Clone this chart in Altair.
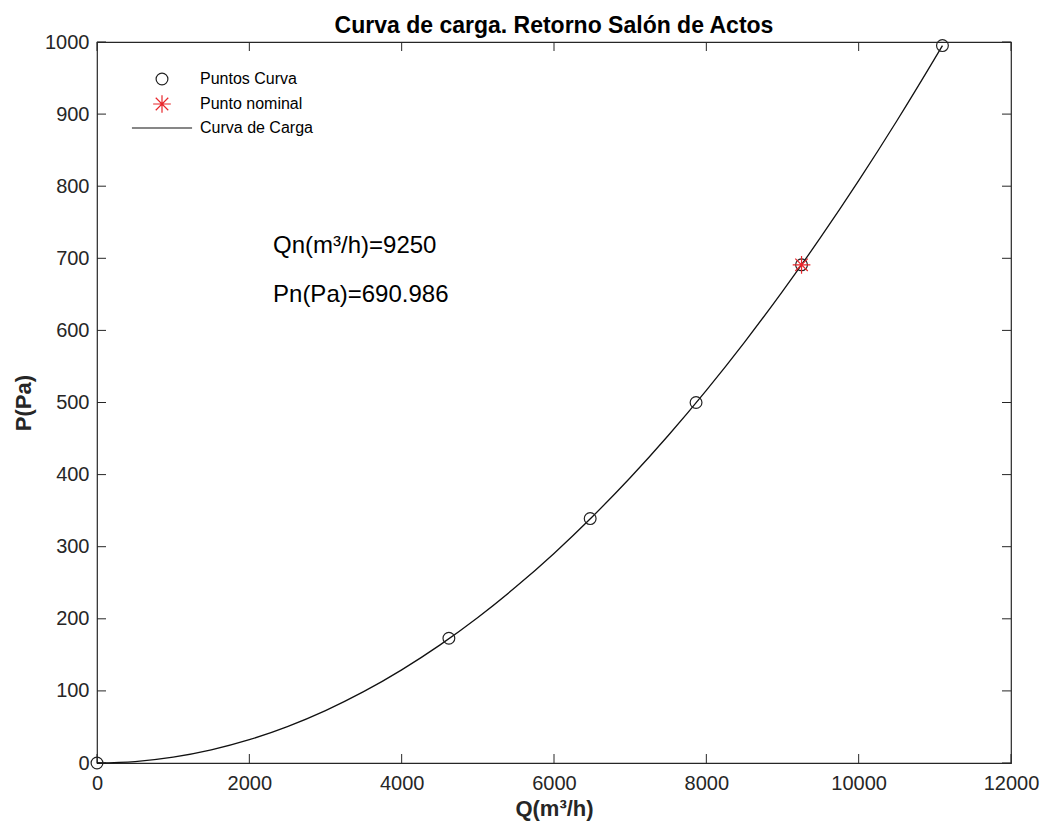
import altair as alt
import pandas as pd

# ---- data ----
pts_q = [0, 4620, 6475, 7865, 11100]
pts_p = [0, 173, 339, 500, 995]

nom_q = [9250]
nom_p = [690.986]

curve_q = [0, 500, 1000, 1500, 2000, 2500, 3000, 3500, 4000, 4500, 5000, 5500,
           6000, 6500, 7000, 7500, 8000, 8500, 9000, 9500, 10000, 10500, 11000, 11100]
curve_p = [0, 2.0, 8.1, 18.2, 32.3, 50.5, 72.7, 98.9, 129.2, 163.5, 201.9, 244.3,
           290.7, 341.2, 395.7, 454.3, 516.9, 583.5, 654.2, 728.9, 807.6, 890.4, 977.2, 995.0]

x_ticks = [0, 2000, 4000, 6000, 8000, 10000, 12000]
y_ticks = [0, 100, 200, 300, 400, 500, 600, 700, 800, 900, 1000]

legend_names = ["Puntos Curva", "Punto nominal", "Curva de Carga"]

ann_q = [2311, 2311]
ann_p = [707, 639]
ann_text = ["Qn(m³/h)=9250", "Pn(Pa)=690.986"]

# ---- styling ----
W, H = 914, 721
FONT = "Liberation Sans"
TXT = "#262626"
RED = "#e8262b"
ASTERISK = ("M-1.5,0L1.5,0M0,-1.5L0,1.5M-1.06,-1.06L1.06,1.06M-1.06,1.06L1.06,-1.06")
LINE = "M-5.1,0L5.1,0"
TICK = 9

xscale = alt.Scale(domain=[0, 12000], nice=False, zero=False)
yscale = alt.Scale(domain=[0, 1000], nice=False, zero=False)

curve_df = pd.DataFrame({"Q": curve_q, "P": curve_p})
pts_df = pd.DataFrame({
    "Q": pts_q + nom_q + nom_q,
    "P": pts_p + nom_p + nom_p,
    "serie": ["Puntos Curva"] * len(pts_q) + ["Puntos Curva"] + ["Punto nominal"],
    "ord": list(range(len(pts_q))) + [len(pts_q), len(pts_q) + 1],
})
ann_df = pd.DataFrame({"Q": ann_q, "P": ann_p, "t": ann_text})
xt_df = pd.DataFrame({"v": x_ticks})
yt_df = pd.DataFrame({"v": y_ticks})

x_axis = alt.Axis(values=x_ticks, ticks=False, domain=False, grid=False, format="d",
                  labelFontSize=20, labelFont=FONT, labelColor=TXT, labelPadding=10,
                  title="Q(m³/h)", titleFont=FONT, titleFontSize=22, titleFontWeight="bold",
                  titleColor=TXT, titlePadding=5, labelFlush=False)
y_axis = alt.Axis(values=y_ticks, ticks=False, domain=False, grid=False, format="d",
                  labelFontSize=20, labelFont=FONT, labelColor=TXT, labelPadding=8,
                  title="P(Pa)", titleFont=FONT, titleFontSize=22, titleFontWeight="bold",
                  titleColor=TXT, titlePadding=9, labelFlush=False)

line = alt.Chart(curve_df).mark_line(color="#111111", strokeWidth=1.3,
                                     interpolate="monotone").encode(
    x=alt.X("Q:Q", scale=xscale, axis=x_axis),
    y=alt.Y("P:Q", scale=yscale, axis=y_axis),
)

leg = alt.Legend(title=None, orient="none", legendX=57, legendY=29,
                 labelFont=FONT, labelFontSize=16, labelColor="#000000",
                 symbolSize=139, symbolStrokeWidth=1.2,
                 symbolFillColor="transparent",
                 labelOffset=30, rowPadding=4, padding=0)

points = alt.Chart(pts_df).mark_point(filled=False, size=139, strokeWidth=1.2, opacity=1).encode(
    x=alt.X("Q:Q", scale=xscale),
    y=alt.Y("P:Q", scale=yscale),
    shape=alt.Shape("serie:N", scale=alt.Scale(domain=legend_names,
                                               range=["circle", ASTERISK, LINE]),
                    legend=leg),
    stroke=alt.Stroke("serie:N", scale=alt.Scale(domain=legend_names,
                                                 range=["#222222", RED, "#111111"]),
                      legend=leg),
    order="ord:Q",
)

ann = alt.Chart(ann_df).mark_text(align="left", baseline="alphabetic", font=FONT,
                                  fontSize=24, color="#000000").encode(
    x=alt.X("Q:Q", scale=xscale),
    y=alt.Y("P:Q", scale=yscale),
    text="t:N",
)

tick_col = TXT
bottom_ticks = alt.Chart(xt_df).mark_rule(color=tick_col, strokeWidth=1).encode(
    x=alt.X("v:Q", scale=xscale), y=alt.value(H), y2=alt.value(H - TICK))
top_ticks = alt.Chart(xt_df).mark_rule(color=tick_col, strokeWidth=1).encode(
    x=alt.X("v:Q", scale=xscale), y=alt.value(0), y2=alt.value(TICK))
left_ticks = alt.Chart(yt_df).mark_rule(color=tick_col, strokeWidth=1).encode(
    y=alt.Y("v:Q", scale=yscale), x=alt.value(0), x2=alt.value(TICK))
right_ticks = alt.Chart(yt_df).mark_rule(color=tick_col, strokeWidth=1).encode(
    y=alt.Y("v:Q", scale=yscale), x=alt.value(W - TICK), x2=alt.value(W))

chart = alt.layer(bottom_ticks, top_ticks, left_ticks, right_ticks, line, points, ann).properties(
    width=W, height=H,
    title=alt.Title("Curva de carga. Retorno Salón de Actos", font=FONT, fontSize=23,
                    fontWeight="bold", color="#000000", anchor="middle", offset=6, dy=12),
    autosize=alt.AutoSizeParams(type="none"),
    padding={"left": 97, "top": 42, "right": 32, "bottom": 71},
    background="white",
).configure_view(stroke=TXT, strokeWidth=1.2)

chart.save("out.html", embed_options={"renderer": "svg", "actions": False})
